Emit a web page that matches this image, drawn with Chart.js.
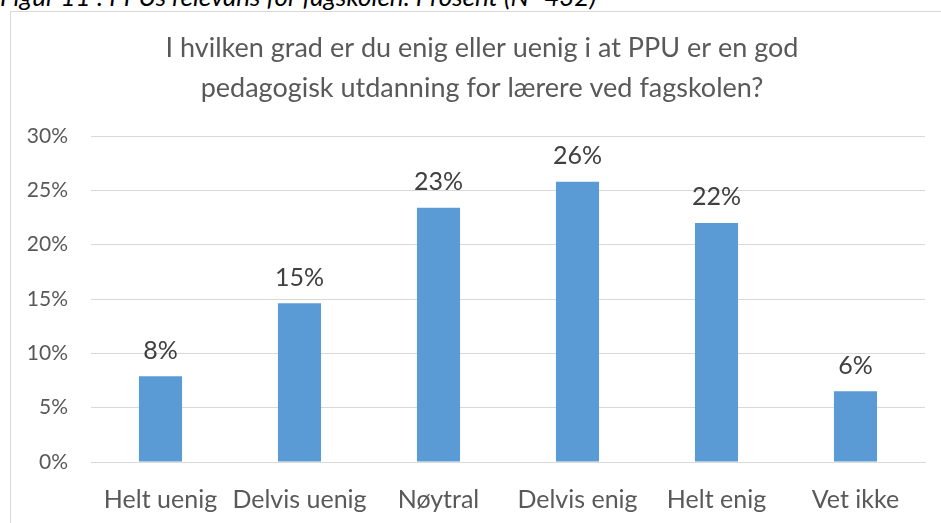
<!DOCTYPE html>
<html>
<head>
<meta charset="utf-8">
<script src="https://cdn.jsdelivr.net/npm/chart.js@4"></script>
<style>
  body { margin: 0; width: 941px; height: 523px; overflow: hidden; background: #fff; position: relative; }
  #caption { position: absolute; left: 0; top: -20px; font: italic 26px Lato, sans-serif; color: #000; white-space: nowrap; }
  #frame { position: absolute; left: 10px; top: 11px; width: 960px; height: 540px; border: 1px solid #d9d9d9; }
  #chart { position: absolute; left: 0; top: 0; }
</style>
</head>
<body>
<div id="caption">Figur 11 : PPUs relevans for fagskolen. Prosent (N=432)</div>
<div id="frame"></div>
<canvas id="chart" width="941" height="523"></canvas>
<script>
var kategorier = ["Helt uenig", "Delvis uenig", "Nøytral", "Delvis enig", "Helt enig", "Vet ikke"];
var verdier = [7.9, 14.6, 23.4, 25.8, 22.0, 6.5];
var etiketter = ["8%", "15%", "23%", "26%", "22%", "6%"];
var tittel = ["I hvilken grad er du enig eller uenig i at PPU er en god", "pedagogisk utdanning for lærere ved fagskolen?"];

// tittel sentrert over hele diagramrammen (ikke bare canvas)
var tittelPlugin = {
    id: 'tittel',
    afterDraw: function (chart) {
        var ctx = chart.ctx;
        ctx.save();
        ctx.font = '27px Lato, sans-serif';
        ctx.fillStyle = '#595959';
        ctx.textAlign = 'center';
        ctx.textBaseline = 'middle';
        tittel.forEach(function (linje, i) {
            ctx.fillText(linje, 482, 48 + i * 40);
        });
        ctx.restore();
    }
};

// tegner prosentetikettene over søylene
var etikettPlugin = {
    id: 'etiketter',
    afterDatasetsDraw: function (chart) {
        var ctx = chart.ctx;
        var meta = chart.getDatasetMeta(0);
        ctx.save();
        ctx.font = '25px Lato, sans-serif';
        ctx.fillStyle = '#404040';
        ctx.textAlign = 'center';
        ctx.textBaseline = 'bottom';
        meta.data.forEach(function (bar, i) {
            ctx.fillText(etiketter[i], bar.x, bar.y - 13);
        });
        ctx.restore();
    }
};

var chartGraph = new Chart(document.getElementById('chart'), {
    type: 'bar',
    data: {
        labels: kategorier,
        datasets: [{
            data: verdier,
            backgroundColor: '#5b9bd5',
            borderWidth: 0,
            categoryPercentage: 1,
            barPercentage: 0.31
        }]
    },
    options: {
        responsive: false,
        animation: false,
        layout: { autoPadding: false, padding: { left: 0, right: 16, top: 136, bottom: 0 } },
        plugins: {
            legend: { display: false },
            tooltip: { enabled: false },
            title: { display: false }
        },
        scales: {
            x: {
                grid: { display: false },
                border: { color: '#d9d9d9', width: 1 },
                ticks: { color: '#595959', font: { family: 'Lato, sans-serif', size: 25 }, padding: 15, maxRotation: 0, autoSkip: false },
                afterFit: function (s) { s.height = 61; }
            },
            y: {
                min: 0,
                max: 30,
                border: { display: false },
                grid: { color: '#d9d9d9', lineWidth: 1, drawTicks: false },
                ticks: {
                    stepSize: 5,
                    color: '#595959',
                    font: { family: 'Lato, sans-serif', size: 21 },
                    padding: 23,
                    callback: function (v) { return v + '%'; }
                },
                afterFit: function (s) { s.width = 91; }
            }
        }
    },
    plugins: [etikettPlugin, tittelPlugin]
});
</script>
</body>
</html>
